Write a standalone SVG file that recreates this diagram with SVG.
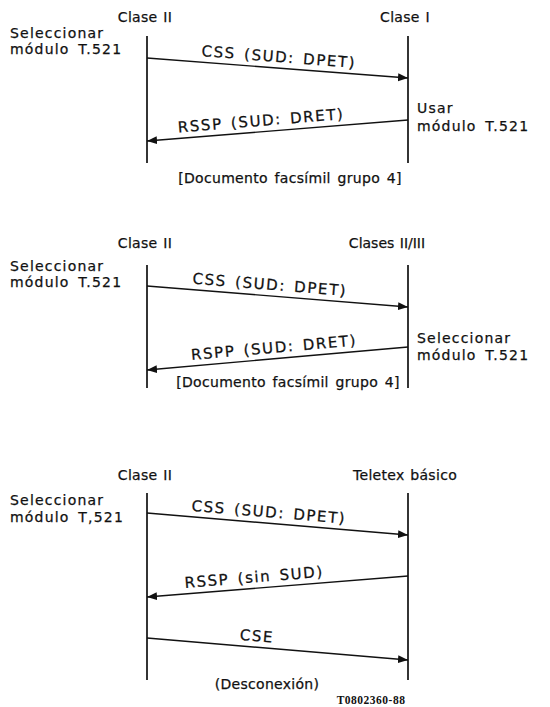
<svg xmlns="http://www.w3.org/2000/svg" width="550" height="707" viewBox="0 0 550 707">
<style>
text{font-family:"DejaVu Sans","Liberation Sans",sans-serif;font-size:14px;letter-spacing:1.2px;word-spacing:3px;fill:#111;stroke:#111;stroke-width:0.25}
.mid{text-anchor:middle}
.hdr{letter-spacing:0.3px;word-spacing:1px}
.lbl{font-size:15px;letter-spacing:1.6px;word-spacing:2px;text-anchor:middle}
.doc{letter-spacing:0.3px;word-spacing:2px;text-anchor:middle}
.life{stroke:#111;stroke-width:1.7;fill:none}
.msg{stroke:#111;stroke-width:1.4;fill:none;marker-end:url(#ah)}
.code{font-family:"Liberation Serif",serif;font-weight:bold;font-size:11.5px;letter-spacing:0.5px;stroke-width:0}
</style>
<defs>
<marker id="ah" markerUnits="userSpaceOnUse" markerWidth="12" markerHeight="10" refX="10" refY="4" orient="auto">
<path d="M0,0 L10,4 L0,8 Z" fill="#111"/>
</marker>
</defs>
<rect width="550" height="707" fill="#fff"/>

<g id="panel1">
<g id="p1-left">
<text x="145" y="22" class="mid hdr">Clase II</text>
<line class="life" x1="147" y1="36" x2="147" y2="163"/>
<text x="10" y="38">Seleccionar</text>
<text x="10" y="54">módulo T.521</text>
</g>
<g id="p1-right">
<text x="405" y="22" class="mid hdr">Clase I</text>
<line class="life" x1="408" y1="36" x2="408" y2="163"/>
<text x="417" y="113">Usar</text>
<text x="417" y="131">módulo T.521</text>
</g>
<text x="290" y="183" class="doc">[Documento facsímil grupo 4]</text>
</g>

<g id="panel2">
<g id="p2-left">
<text x="145" y="248" class="mid hdr">Clase II</text>
<line class="life" x1="147" y1="265" x2="147" y2="388"/>
<text x="10" y="271">Seleccionar</text>
<text x="10" y="287">módulo T.521</text>
</g>
<g id="p2-right">
<text x="387" y="248" class="mid hdr" style="letter-spacing:0">Clases II/III</text>
<line class="life" x1="408" y1="265" x2="408" y2="388"/>
<text x="417" y="343">Seleccionar</text>
<text x="417" y="360">módulo T.521</text>
</g>
<text x="288" y="387" class="doc">[Documento facsímil grupo 4]</text>
</g>

<g id="panel3">
<g id="p3-left">
<text x="145" y="480" class="mid hdr">Clase II</text>
<line class="life" x1="147" y1="493" x2="147" y2="680"/>
<text x="10" y="505">Seleccionar</text>
<text x="10" y="522">módulo T,521</text>
</g>
<g id="p3-right">
<text x="405" y="480" class="mid hdr">Teletex básico</text>
<line class="life" x1="408" y1="493" x2="408" y2="680"/>
</g>
<text x="267" y="689" class="mid hdr">(Desconexión)</text>
<text x="371" y="704" class="mid code">T0802360-88</text>
</g>

<g id="connectors">
<line class="msg" x1="147" y1="58" x2="408" y2="78"/>
<text transform="translate(278,68) rotate(4.4)" x="0" y="-6" class="lbl">CSS (SUD: DPET)</text>
<line class="msg" x1="408" y1="120" x2="147" y2="141"/>
<text transform="translate(262,131.7) rotate(-4.6)" x="0" y="-6" class="lbl">RSSP (SUD: DRET)</text>

<line class="msg" x1="147" y1="286" x2="408" y2="307"/>
<text transform="translate(269,295.8) rotate(4.6)" x="0" y="-6" class="lbl">CSS (SUD: DPET)</text>
<line class="msg" x1="408" y1="347" x2="147" y2="370"/>
<text transform="translate(275,358.7) rotate(-5)" x="0" y="-6" class="lbl">RSPP (SUD: DRET)</text>

<line class="msg" x1="147" y1="513" x2="408" y2="535"/>
<text transform="translate(268,523.2) rotate(4.8)" x="0" y="-6" class="lbl">CSS (SUD: DPET)</text>
<line class="msg" x1="408" y1="576" x2="147" y2="597"/>
<text transform="translate(255,588.3) rotate(-4.6)" x="0" y="-6" class="lbl">RSSP (sin SUD)</text>
<line class="msg" x1="147" y1="638" x2="408" y2="660"/>
<text transform="translate(256,647.2) rotate(4.8)" x="0" y="-6" class="lbl">CSE</text>
</g>
</svg>
